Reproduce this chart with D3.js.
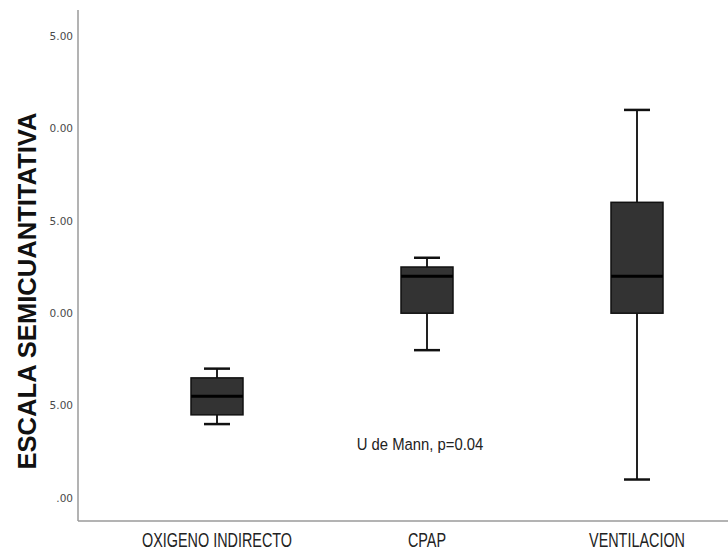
<!DOCTYPE html>
<html>
<head>
<meta charset="utf-8">
<script src="https://cdn.jsdelivr.net/npm/d3@7"></script>
<style>
  html, body { margin: 0; padding: 0; background: #fff; }
  svg { display: block; }
</style>
</head>
<body>
<div id="chart"></div>
<script>
const categories = ["OXIGENO INDIRECTO", "CPAP", "VENTILACION"];
const mins = [4, 8, 1];
const q1s = [4.5, 10, 10];
const medians = [5.5, 12, 12];
const q3s = [6.5, 12.5, 16];
const maxs = [7, 13, 21];
const yTicks = [0, 5, 10, 15, 20, 25];
const yTitle = "ESCALA SEMICUANTITATIVA";
const note = "U de Mann, p=0.04";

const width = 728, height = 551;
const svg = d3.select("#chart").append("svg").attr("width", width).attr("height", height);

const axisX = 78, axisBottom = 521;
const y = d3.scaleLinear().domain([0, 25]).range([498, 36]);
const x = d3.scaleBand().domain(categories).range([112, 742]);
const boxW = 52, capW = 26;
const font = "'Liberation Sans', Arial, sans-serif";

const data = categories.map((c, i) => ({
  cat: c, min: mins[i], q1: q1s[i], med: medians[i], q3: q3s[i], max: maxs[i],
}));

// the source picture has its tick labels cut on the left
svg.append("defs").append("clipPath").attr("id", "tickclip")
  .append("rect").attr("x", 49).attr("y", 0).attr("width", 40).attr("height", height);

const yAxis = svg.append("g").attr("clip-path", "url(#tickclip)")
  .append("g")
  .attr("transform", `translate(${axisX},0)`)
  .call(d3.axisLeft(y).tickValues(yTicks).tickSize(0).tickPadding(5)
    .tickFormat(d => d === 0 ? ".00" : d3.format(".2f")(d)));
yAxis.select(".domain").remove();
yAxis.selectAll("text")
  .attr("font-family", "'DejaVu Sans', sans-serif")
  .attr("font-size", 10.5).attr("fill", "#4a4a4a");

svg.append("line").attr("x1", axisX).attr("x2", axisX).attr("y1", 10).attr("y2", axisBottom)
  .attr("stroke", "#9a9a9a").attr("stroke-width", 1.5);
svg.append("line").attr("x1", axisX).attr("x2", width).attr("y1", axisBottom).attr("y2", axisBottom)
  .attr("stroke", "#9a9a9a").attr("stroke-width", 1.5);

const xAxis = svg.append("g")
  .attr("transform", `translate(0,${axisBottom})`)
  .call(d3.axisBottom(x).tickSize(0).tickPadding(11.5));
xAxis.select(".domain").remove();
xAxis.selectAll("text")
  .attr("font-family", font)
  .attr("font-size", 20).attr("fill", "#222")
  .attr("transform", "scale(0.72,1)");

const boxes = svg.append("g").selectAll("g").data(data).join("g")
  .attr("transform", d => `translate(${x(d.cat) + x.bandwidth() / 2},0)`);

boxes.append("line").attr("x1", 0).attr("x2", 0)
  .attr("y1", d => y(d.max)).attr("y2", d => y(d.q3))
  .attr("stroke", "#222").attr("stroke-width", 2);
boxes.append("line").attr("x1", 0).attr("x2", 0)
  .attr("y1", d => y(d.q1)).attr("y2", d => y(d.min))
  .attr("stroke", "#222").attr("stroke-width", 2);
boxes.append("line").attr("x1", -capW / 2).attr("x2", capW / 2)
  .attr("y1", d => y(d.max)).attr("y2", d => y(d.max))
  .attr("stroke", "#111").attr("stroke-width", 2.5);
boxes.append("line").attr("x1", -capW / 2).attr("x2", capW / 2)
  .attr("y1", d => y(d.min)).attr("y2", d => y(d.min))
  .attr("stroke", "#111").attr("stroke-width", 2.5);
boxes.append("rect")
  .attr("x", -boxW / 2).attr("width", boxW)
  .attr("y", d => y(d.q3)).attr("height", d => y(d.q1) - y(d.q3))
  .attr("fill", "#333333").attr("stroke", "#111").attr("stroke-width", 1.5);
boxes.append("line").attr("x1", -boxW / 2).attr("x2", boxW / 2)
  .attr("y1", d => y(d.med)).attr("y2", d => y(d.med))
  .attr("stroke", "#000").attr("stroke-width", 3);

svg.append("text")
  .attr("transform", "translate(36,291) rotate(-90)")
  .attr("text-anchor", "middle")
  .attr("font-family", font)
  .attr("font-weight", "bold").attr("font-size", 26).attr("fill", "#111")
  .attr("textLength", 357).attr("lengthAdjust", "spacingAndGlyphs")
  .text(yTitle);

svg.append("text")
  .attr("transform", "translate(420,450) scale(0.9,1)")
  .attr("text-anchor", "middle")
  .attr("font-family", font)
  .attr("font-size", 16.5).attr("fill", "#222")
  .text(note);
</script>
</body>
</html>
